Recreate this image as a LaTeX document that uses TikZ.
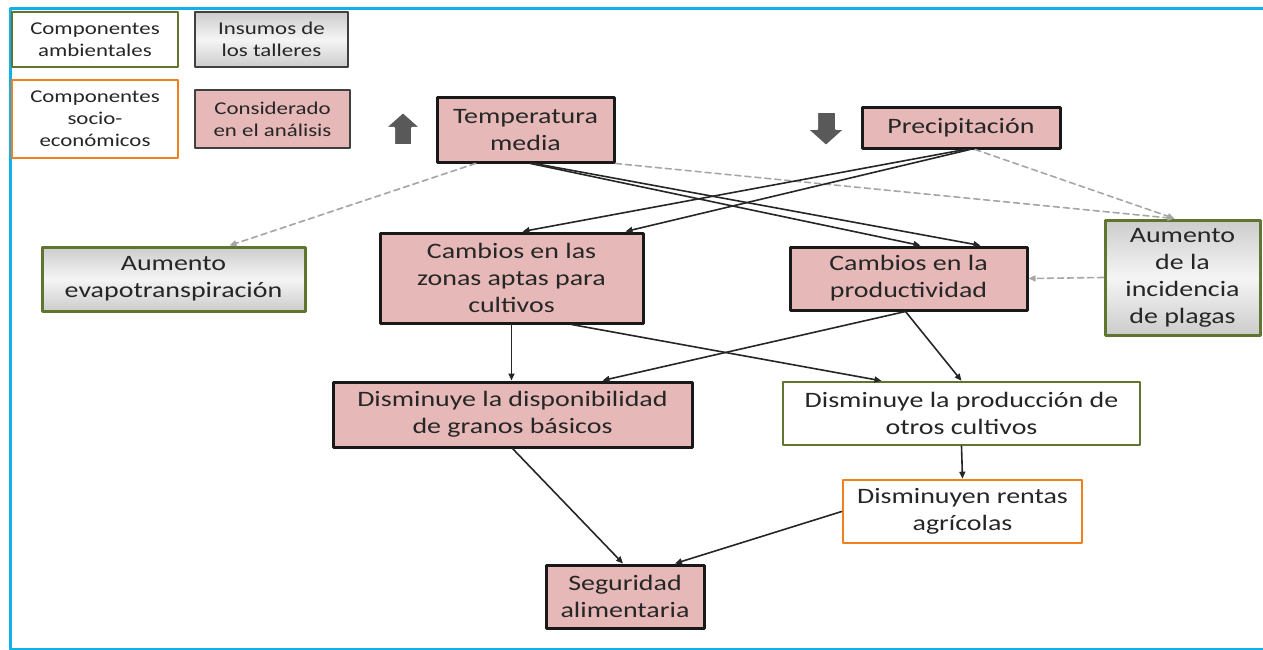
\documentclass[tikz,border=0pt]{standalone}
\usepackage{fontspec}
\setmainfont{Carlito}[FakeStretch=1.27]
\usetikzlibrary{arrows.meta}

\definecolor{rosa}{HTML}{E6B9B8}
\definecolor{oliva}{HTML}{5F7530}
\definecolor{naranja}{HTML}{F07F1E}
\definecolor{celeste}{HTML}{12B0EA}
\definecolor{gris}{HTML}{595959}

\begin{document}
\begin{tikzpicture}[x=1pt, y=-1pt, line cap=round, line join=round,
  caja/.style={draw, align=center, inner sep=2pt, text=black!85,
    font=\fontsize{22}{27}\selectfont},
  ley/.style={caja, font=\fontsize{18}{22}\selectfont},
  rosada/.style={fill=rosa, draw=black!90, line width=3pt},
  gristaller/.style={top color=gray!40, bottom color=gray!40, middle color=gray!8},
  ambiental/.style={draw=oliva, line width=3pt},
  socio/.style={draw=naranja, line width=2.6pt, fill=white},
  flecha/.style={-{Triangle[length=7pt,width=6pt]}, line width=1.6pt, black!85},
  guion/.style={flecha, gray!70, dash pattern=on 6pt off 4pt}]

  %% ==== marco ====
  \draw[celeste, line width=3pt, line cap=butt] (1270,9) -- (10,9) -- (10,649) -- (1270,649);

  %% ==== leyenda ====
  \node[ley, draw=oliva, line width=2.2pt, minimum width=166pt, minimum height=55pt] (leyAmb) at (95,39.5) {Componentes\\ambientales};
  \node[ley, gristaller, draw=black!75, line width=2pt, minimum width=153pt, minimum height=55pt] (leyIns) at (271.5,39.5) {Insumos de\\los talleres};
  \node[ley, socio, minimum width=166pt, minimum height=78pt] (leySoc) at (95,119) {Componentes\\socio-\\económicos};
  \node[ley, fill=rosa, draw=black!75, line width=2pt, minimum width=155pt, minimum height=58pt] (leyCon) at (272.5,119) {Considerado\\en el análisis};

  %% ==== flechas de tendencia ====
  \draw[fill=gris, draw=white, line width=2pt] (385,128) -- (403,112) -- (421,128) -- (412,128) -- (412,145) -- (394,145) -- (394,128) -- cycle;
  \draw[fill=gris, draw=white, line width=2pt] (807,129) -- (826,146) -- (845,129) -- (836,129) -- (836,112) -- (817,112) -- (817,129) -- cycle;

  %% ==== cajas ====
  \node[caja, rosada, minimum width=177pt, minimum height=64pt] (temp) at (525.5,130) {Temperatura\\media};
  \node[caja, rosada, minimum width=198pt, minimum height=40pt] (prec) at (961,128) {Precipitación};
  \node[caja, gristaller, ambiental, minimum width=263pt, minimum height=64pt] (evap) at (173.5,279) {Aumento\\evapotranspiración};
  \node[caja, rosada, minimum width=263pt, minimum height=90pt] (zonas) at (511.5,278) {Cambios en las\\zonas aptas para\\cultivos};
  \node[caja, rosada, minimum width=237pt, minimum height=63pt] (prod) at (908.5,278.5) {Cambios en la\\productividad};
  \node[caja, gristaller, ambiental, minimum width=155pt, minimum height=115pt] (plagas) at (1182.5,277.5) {Aumento\\de la\\incidencia\\de plagas};
  \node[caja, rosada, minimum width=359pt, minimum height=65pt] (granos) at (512.5,414.5) {Disminuye la disponibilidad\\de granos básicos};
  \node[caja, ambiental, fill=white, line width=2.4pt, minimum width=357pt, minimum height=63pt] (otros) at (961.5,413.5) {Disminuye la producción de\\otros cultivos};
  \node[caja, socio, minimum width=239pt, minimum height=63pt] (rentas) at (962.5,511.5) {Disminuyen rentas\\agrícolas};
  \node[caja, rosada, minimum width=158pt, minimum height=63pt] (seg) at (625,596.5) {Seguridad\\alimentaria};

  %% ==== conectores punteados ====
  \draw[guion] ([xshift=-50pt]temp.south) -- ([xshift=56pt]evap.north);
  \draw[guion] (temp.south east) -- ([xshift=-8pt]plagas.north);
  \draw[guion] ([xshift=14pt]prec.south) -- ([xshift=-8pt]plagas.north);
  \draw[guion] (plagas.west) -- (prod.east);

  %% ==== conectores ====
  \draw[flecha] ([xshift=5pt]temp.south) -- ([xshift=12pt]prod.north);
  \draw[flecha] ([xshift=9pt]temp.south) -- ([xshift=72pt]prod.north);
  \draw[flecha] ([xshift=4pt]prec.south) -- ([xshift=11pt]zonas.north);
  \draw[flecha] ([xshift=9pt]prec.south) -- ([xshift=114pt]zonas.north);
  \draw[flecha] (zonas.south) -- (zonas.south |- granos.north);
  \draw[flecha] ([xshift=60pt]zonas.south) -- ([xshift=-80pt]otros.north);
  \draw[flecha] ([xshift=-3pt]prod.south) -- ([xshift=90pt]granos.north);
  \draw[flecha] ([xshift=-3pt]prod.south) -- (otros.north);
  \draw[flecha] (otros.south) -- (rentas.north);
  \draw[flecha] (granos.south) -- ([xshift=-2pt]seg.north);
  \draw[flecha] (rentas.west) -- ([xshift=50pt]seg.north);

  \pgfresetboundingbox
  \path[use as bounding box] (0,0) rectangle (1263,650);
\end{tikzpicture}
\end{document}
